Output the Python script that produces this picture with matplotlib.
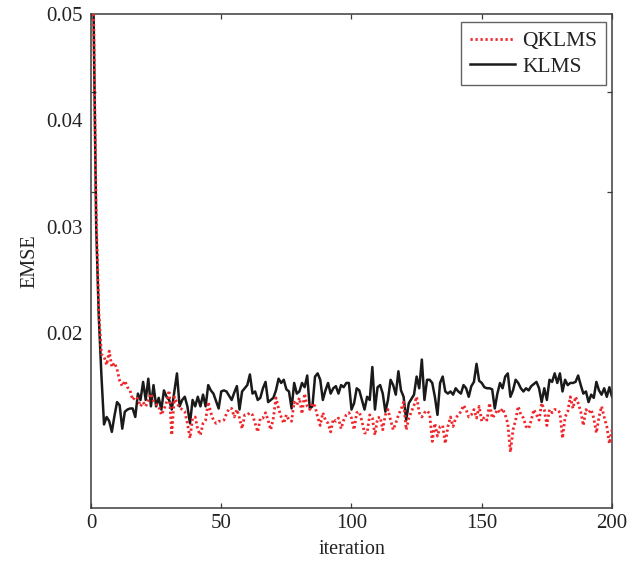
import numpy as np
import matplotlib
matplotlib.use("Agg")
import matplotlib.pyplot as plt

iterations = list(range(1, 201))

klms = [
    0.0500, 0.0300, 0.0215, 0.0160, 0.0114, 0.0121, 0.0117, 0.0107, 0.0122, 0.0135,
    0.0132, 0.0110, 0.0126, 0.0128, 0.0129, 0.0129, 0.0121, 0.0143, 0.0137, 0.0154,
    0.0137, 0.0157, 0.0131, 0.0151, 0.0131, 0.0139, 0.0128, 0.0146, 0.0140, 0.0137,
    0.0128, 0.0145, 0.0162, 0.0131, 0.0137, 0.0140, 0.0131, 0.0115, 0.0137, 0.0131,
    0.0140, 0.0131, 0.0142, 0.0131, 0.0151, 0.0146, 0.0143, 0.0136, 0.0129, 0.0145,
    0.0146, 0.0145, 0.0141, 0.0137, 0.0144, 0.0150, 0.0128, 0.0145, 0.0148, 0.0151,
    0.0161, 0.0143, 0.0145, 0.0137, 0.0139, 0.0148, 0.0154, 0.0135, 0.0137, 0.0139,
    0.0146, 0.0157, 0.0153, 0.0156, 0.0147, 0.0145, 0.0129, 0.0153, 0.0143, 0.0145,
    0.0153, 0.0149, 0.0160, 0.0129, 0.0131, 0.0159, 0.0162, 0.0156, 0.0137, 0.0146,
    0.0153, 0.0143, 0.0148, 0.0150, 0.0143, 0.0151, 0.0149, 0.0153, 0.0153, 0.0128,
    0.0134, 0.0148, 0.0146, 0.0137, 0.0128, 0.0140, 0.0137, 0.0168, 0.0128, 0.0149,
    0.0151, 0.0143, 0.0126, 0.0137, 0.0156, 0.0151, 0.0142, 0.0164, 0.0146, 0.0140,
    0.0118, 0.0134, 0.0138, 0.0142, 0.0159, 0.0148, 0.0175, 0.0137, 0.0156, 0.0156,
    0.0153, 0.0140, 0.0123, 0.0153, 0.0159, 0.0145, 0.0143, 0.0145, 0.0142, 0.0148,
    0.0145, 0.0143, 0.0151, 0.0148, 0.0140, 0.0150, 0.0154, 0.0171, 0.0155, 0.0153,
    0.0149, 0.0148, 0.0148, 0.0147, 0.0129, 0.0143, 0.0153, 0.0148, 0.0159, 0.0162,
    0.0140, 0.0146, 0.0156, 0.0153, 0.0148, 0.0145, 0.0148, 0.0146, 0.0150, 0.0152,
    0.0154, 0.0148, 0.0135, 0.0148, 0.0137, 0.0156, 0.0154, 0.0162, 0.0153, 0.0162,
    0.0145, 0.0156, 0.0151, 0.0153, 0.0153, 0.0154, 0.0160, 0.0151, 0.0143, 0.0145,
    0.0135, 0.0142, 0.0139, 0.0154, 0.0146, 0.0142, 0.0148, 0.0140, 0.0149, 0.0140,
]

qklms = [
    0.0500, 0.0310, 0.0220, 0.0180, 0.0178, 0.0170, 0.0183, 0.0168, 0.0172, 0.0166,
    0.0155, 0.0150, 0.0155, 0.0149, 0.0146, 0.0137, 0.0140, 0.0138, 0.0131, 0.0135,
    0.0131, 0.0137, 0.0143, 0.0136, 0.0133, 0.0131, 0.0123, 0.0128, 0.0135, 0.0146,
    0.0104, 0.0140, 0.0134, 0.0130, 0.0128, 0.0126, 0.0115, 0.0101, 0.0120, 0.0121,
    0.0109, 0.0104, 0.0115, 0.0118, 0.0135, 0.0125, 0.0118, 0.0115, 0.0117, 0.0117,
    0.0118, 0.0124, 0.0129, 0.0129, 0.0121, 0.0128, 0.0120, 0.0110, 0.0123, 0.0123,
    0.0125, 0.0123, 0.0115, 0.0107, 0.0120, 0.0120, 0.0125, 0.0118, 0.0109, 0.0120,
    0.0139, 0.0129, 0.0121, 0.0115, 0.0123, 0.0118, 0.0117, 0.0135, 0.0132, 0.0139,
    0.0124, 0.0143, 0.0131, 0.0128, 0.0134, 0.0131, 0.0121, 0.0113, 0.0125, 0.0118,
    0.0115, 0.0107, 0.0119, 0.0117, 0.0120, 0.0110, 0.0118, 0.0123, 0.0125, 0.0120,
    0.0109, 0.0125, 0.0126, 0.0117, 0.0106, 0.0106, 0.0123, 0.0120, 0.0104, 0.0120,
    0.0121, 0.0109, 0.0123, 0.0128, 0.0118, 0.0109, 0.0115, 0.0123, 0.0128, 0.0135,
    0.0109, 0.0120, 0.0126, 0.0132, 0.0140, 0.0125, 0.0121, 0.0125, 0.0127, 0.0124,
    0.0098, 0.0115, 0.0103, 0.0112, 0.0113, 0.0096, 0.0112, 0.0121, 0.0112, 0.0120,
    0.0123, 0.0126, 0.0132, 0.0128, 0.0121, 0.0123, 0.0128, 0.0120, 0.0131, 0.0117,
    0.0121, 0.0118, 0.0134, 0.0120, 0.0123, 0.0128, 0.0125, 0.0129, 0.0123, 0.0115,
    0.0088, 0.0109, 0.0118, 0.0131, 0.0123, 0.0120, 0.0112, 0.0110, 0.0118, 0.0128,
    0.0123, 0.0118, 0.0134, 0.0128, 0.0113, 0.0128, 0.0125, 0.0128, 0.0128, 0.0125,
    0.0101, 0.0121, 0.0126, 0.0140, 0.0129, 0.0140, 0.0134, 0.0126, 0.0113, 0.0128,
    0.0125, 0.0128, 0.0120, 0.0106, 0.0121, 0.0131, 0.0121, 0.0112, 0.0096, 0.0109,
]

x_ticks = [0, 50, 100, 150, 200]
y_ticks = [0.02, 0.03, 0.04, 0.05]
y_tick_labels = ["0.02", "0.03", "0.04", "0.05"]
series_labels = ["QKLMS", "KLMS"]

plt.rcParams['font.family'] = ['Liberation Serif', 'DejaVu Serif']

fig = plt.figure(figsize=(6.44, 5.63), dpi=100)
ax = fig.add_axes([91 / 644, 55 / 563, 521 / 644, 494 / 563])

ax.plot(iterations, qklms, color='#f0262a', linestyle=(0, (0.8, 1.0)), linewidth=2.0,
        label=series_labels[0], zorder=3)
ax.plot(iterations, klms, color='#1a1a1a', linestyle='-', linewidth=1.8,
        label=series_labels[1], zorder=2)

ymin, ymax = 0.00354, 0.05
ax.set_xlim(0, 200)
ax.set_ylim(ymin, ymax)

ax.set_xticks(x_ticks)
ax.set_xticklabels([str(t) for t in x_ticks])
ax.set_yticks(y_ticks)
ax.set_yticklabels(y_tick_labels)

# tick marks follow the original (log-spaced) positions of the same values
lo, hi = min(y_ticks), max(y_ticks)
mark_pos = [hi - (np.log10(hi) - np.log10(v)) / (np.log10(hi) - np.log10(lo)) * (hi - lo)
            for v in y_ticks[:-1]]
ax.set_yticks(mark_pos, minor=True)

spine_col = '#3c3c3c'
for s in ax.spines.values():
    s.set_color(spine_col)
    s.set_linewidth(1.1)

fs = 15
ax.tick_params(axis='x', which='major', direction='in', length=3.8, width=0.9,
               colors=spine_col, labelcolor='#222222', labelsize=fs, pad=4,
               top=True, bottom=True)
ax.tick_params(axis='y', which='major', direction='in', length=0, labelcolor='#222222',
               labelsize=fs, pad=6, left=True, right=True)
ax.tick_params(axis='y', which='minor', direction='in', length=3.8, width=0.9,
               colors=spine_col, left=True, right=True)
ax.tick_params(axis='x', which='minor', bottom=False, top=False)

ax.set_xlabel('iteration', fontsize=14.5, color='#222222', labelpad=5)
ax.set_ylabel('EMSE', fontsize=14.5, color='#222222', labelpad=5)

leg = ax.legend(loc='upper right', bbox_to_anchor=(0.9885, 0.983), fontsize=15.5,
                frameon=True, fancybox=False, handlelength=2.1, handletextpad=0.35,
                borderpad=0.4, labelspacing=0.25, borderaxespad=0.0)
leg.get_frame().set_edgecolor('#3c3c3c')
leg.get_frame().set_linewidth(1.0)
for t in leg.get_texts():
    t.set_color('#222222')

fig.savefig('out.png', dpi=100)
